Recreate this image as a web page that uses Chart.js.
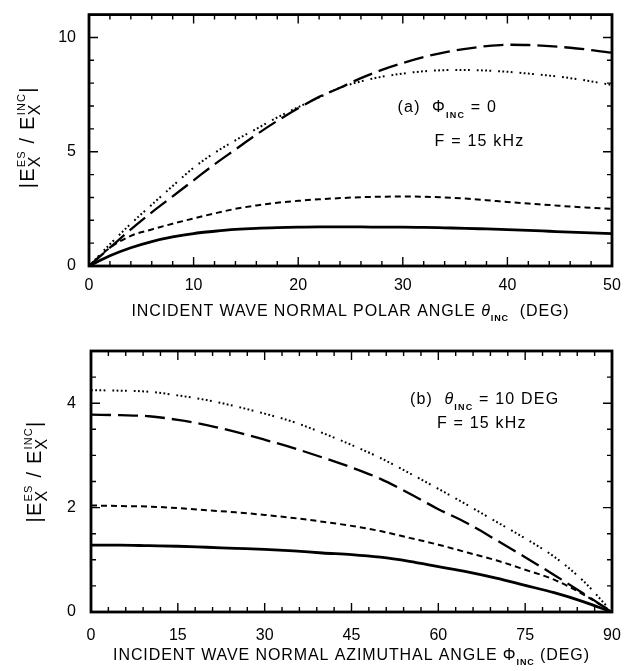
<!DOCTYPE html>
<html>
<head>
<meta charset="utf-8">
<script src="https://cdn.jsdelivr.net/npm/chart.js@4.4.1/dist/chart.umd.min.js"></script>
<style>
  html, body { margin: 0; padding: 0; background: #fff; }
  #wrap { position: relative; width: 635px; height: 671px; }
  canvas { position: absolute; left: 0; }
</style>
</head>
<body>
<div id="wrap">
  <canvas id="chartA" width="635" height="330" style="top:0"></canvas>
  <canvas id="chartB" width="635" height="341" style="top:330px"></canvas>
</div>
<script>
// ---------- Panel (a): ratio versus polar angle, PHI_INC = 0 ----------
const thetaDeg = [0, 2, 4, 6, 8, 10, 12, 14, 16, 18, 20, 22, 24, 26, 28, 30, 32, 34, 36, 38, 40, 42, 44, 46, 48, 50];
const aSolid     = [0, 0.45, 0.80, 1.07, 1.27, 1.42, 1.52, 1.60, 1.65, 1.68, 1.70, 1.71, 1.71, 1.71, 1.70, 1.70, 1.69, 1.67, 1.65, 1.62, 1.59, 1.56, 1.52, 1.48, 1.45, 1.42];
const aShortDash = [0, 0.80, 1.32, 1.60, 1.85, 2.08, 2.30, 2.50, 2.65, 2.77, 2.85, 2.92, 2.97, 3.01, 3.03, 3.04, 3.03, 3.00, 2.95, 2.88, 2.80, 2.73, 2.67, 2.60, 2.55, 2.50];
const aLongDash  = [0, 0.80, 1.60, 2.35, 3.05, 3.75, 4.45, 5.10, 5.75, 6.35, 6.90, 7.40, 7.80, 8.22, 8.58, 8.88, 9.14, 9.35, 9.50, 9.62, 9.68, 9.67, 9.62, 9.55, 9.45, 9.33];
const aDotted    = [0, 0.95, 1.85, 2.68, 3.50, 4.30, 4.95, 5.50, 6.00, 6.50, 6.95, 7.38, 7.80, 8.08, 8.28, 8.42, 8.52, 8.57, 8.58, 8.55, 8.50, 8.42, 8.33, 8.22, 8.08, 7.92];
const aXTicks = [0, 10, 20, 30, 40, 50];
const aYTicks = [0, 5, 10];

// ---------- Panel (b): ratio versus azimuthal angle, THETA_INC = 10 DEG ----------
const phiDeg = [0, 5, 10, 15, 20, 25, 30, 35, 40, 45, 50, 55, 60, 65, 70, 75, 80, 85, 90];
const bSolid     = [1.28, 1.28, 1.27, 1.26, 1.24, 1.22, 1.20, 1.17, 1.13, 1.10, 1.05, 0.97, 0.87, 0.77, 0.65, 0.51, 0.37, 0.20, 0];
const bShortDash = [2.04, 2.03, 2.02, 1.99, 1.95, 1.91, 1.86, 1.80, 1.73, 1.65, 1.55, 1.42, 1.29, 1.14, 0.99, 0.81, 0.62, 0.34, 0];
const bLongDash  = [3.78, 3.77, 3.75, 3.68, 3.58, 3.45, 3.30, 3.14, 2.96, 2.77, 2.55, 2.27, 1.97, 1.70, 1.38, 1.05, 0.71, 0.36, 0];
const bDotted    = [4.25, 4.24, 4.22, 4.15, 4.06, 3.94, 3.80, 3.64, 3.43, 3.20, 2.95, 2.66, 2.36, 2.05, 1.73, 1.41, 1.06, 0.60, 0];
const bXTicks = [0, 15, 30, 45, 60, 75, 90];
const bYTicks = [0, 2, 4];

const FAMILY = '"Liberation Sans", Arial, Helvetica, sans-serif';

// ---------- text helpers (sub/superscripts, letter spacing, rotation) ----------
function fontStr(size, italic, bold) {
  return (italic ? 'italic ' : '') + (bold ? 'bold ' : '') + size + 'px ' + FAMILY;
}
function textW(ctx, t, size, italic, bold, ls) {
  ctx.font = fontStr(size, italic, bold);
  ctx.letterSpacing = '0px';
  return ctx.measureText(t).width + ls * t.length;
}
function drawText(ctx, t, x, y, size, italic, bold, ls) {
  ctx.font = fontStr(size, italic, bold);
  ctx.letterSpacing = ls + 'px';
  ctx.fillText(t, x, y);
}
function partWidth(ctx, p, ls) {
  if (p.stack) {
    const s = p.stack;
    return Math.max(textW(ctx, s.sup, s.supSize, false, false, ls),
                    textW(ctx, s.sub, s.subSize, false, false, ls));
  }
  return textW(ctx, p.t, p.size, p.it, p.b, ls);
}
function drawRich(ctx, parts, x, y, o) {
  const ls = o.ls || 0;
  ctx.save();
  ctx.translate(x, y);
  ctx.rotate(o.rot || 0);
  ctx.fillStyle = '#000';
  ctx.textAlign = 'left';
  ctx.textBaseline = 'alphabetic';
  const total = parts.reduce((s, p) => s + partWidth(ctx, p, ls), 0);
  let cx = o.align === 'center' ? -total / 2 : 0;
  for (const p of parts) {
    const w = partWidth(ctx, p, ls);
    if (p.stack) {
      const s = p.stack;
      drawText(ctx, s.sup, cx, s.dySup, s.supSize, false, false, ls);
      drawText(ctx, s.sub, cx, s.dySub, s.subSize, false, false, ls);
    } else {
      drawText(ctx, p.t, cx, p.dy || 0, p.size, p.it, p.b, ls);
    }
    cx += w;
  }
  ctx.restore();
}

// ratio label |E_X^ES / E_X^INC|
const ratioTitle = [
  { t: '|E', size: 20 },
  { stack: { sup: 'ES', supSize: 11, dySup: -9, sub: 'X', subSize: 16, dySub: 6 } },
  { t: ' / E', size: 20 },
  { stack: { sup: 'INC', supSize: 11, dySup: -9, sub: 'X', subSize: 16, dySub: 6 } },
  { t: '|', size: 20 }
];

// ---------- plugin: heavy frame with inward major/minor ticks on all sides ----------
const frameTicks = {
  id: 'frameTicks',
  afterDatasetsDraw(chart, args, opts) {
    const { ctx, chartArea: a, scales: { x, y } } = chart;
    ctx.save();
    ctx.strokeStyle = '#000';
    ctx.lineCap = 'butt';
    const isMajor = (arr, v) => arr.some(m => Math.abs(m - v) < 1e-6);
    ctx.lineWidth = 1.4;
    const nx = Math.round((x.max - x.min) / opts.xMinor);
    for (let i = 0; i <= nx; i++) {
      const v = x.min + i * opts.xMinor;
      const px = x.getPixelForValue(v);
      const len = isMajor(opts.xMajor, v) ? 9 : 5;
      ctx.beginPath();
      ctx.moveTo(px, a.bottom); ctx.lineTo(px, a.bottom - len);
      ctx.moveTo(px, a.top); ctx.lineTo(px, a.top + len);
      ctx.stroke();
    }
    const ny = Math.round((y.max - y.min) / opts.yMinor);
    for (let i = 0; i <= ny; i++) {
      const v = y.min + i * opts.yMinor;
      const py = y.getPixelForValue(v);
      const len = isMajor(opts.yMajor, v) ? 9 : 5;
      ctx.beginPath();
      ctx.moveTo(a.left, py); ctx.lineTo(a.left + len, py);
      ctx.moveTo(a.right, py); ctx.lineTo(a.right - len, py);
      ctx.stroke();
    }
    ctx.lineWidth = 2.8;
    ctx.strokeRect(a.left, a.top, a.right - a.left, a.bottom - a.top);
    ctx.restore();
  }
};

// ---------- plugin: axis titles and in-plot annotation ----------
const labels = {
  id: 'labels',
  afterDraw(chart, args, opts) {
    const { ctx, chartArea: a, scales: { x, y } } = chart;
    const cxA = (a.left + a.right) / 2;
    drawRich(ctx, opts.xTitle, cxA, a.bottom + opts.xTitleDy, { align: 'center', ls: 0.9 });
    drawRich(ctx, ratioTitle, opts.yTitleX, (a.top + a.bottom) / 2 + opts.yTitleDy,
             { align: 'center', rot: -Math.PI / 2, ls: 1.2 });
    const n = opts.note;
    const x0 = x.getPixelForValue(n.x), y0 = y.getPixelForValue(n.y);
    drawRich(ctx, n.line1, x0, y0, { ls: 1.2 });
    const y1 = y.getPixelForValue(n.y2);
    drawRich(ctx, n.line2, x0 + n.indent, y1, { ls: 1.2 });
  }
};

function lineSets(xs, solid, shortDash, longDash, dotted) {
  const pts = arr => arr.map((v, i) => ({ x: xs[i], y: v }));
  const base = { pointRadius: 0, borderColor: '#000', backgroundColor: '#000', fill: false,
                 cubicInterpolationMode: 'monotone', borderCapStyle: 'butt' };
  return [
    Object.assign({ label: 'solid', data: pts(solid), borderWidth: 2.8 }, base),
    Object.assign({ label: 'short dash', data: pts(shortDash), borderWidth: 2, borderDash: [6, 4] }, base),
    Object.assign({ label: 'long dash', data: pts(longDash), borderWidth: 2.3, borderDash: [20, 7] }, base),
    Object.assign({ label: 'dotted', data: pts(dotted), borderWidth: 2, borderDash: [1.8, 2.4, 1.8, 2.4, 1.8, 2.4, 1.8, 7] }, base)
  ];
}

function makeChart(id, cfg) {
  return new Chart(document.getElementById(id), {
    type: 'line',
    data: { datasets: lineSets(cfg.xs, cfg.solid, cfg.shortDash, cfg.longDash, cfg.dotted) },
    options: {
      responsive: false,
      animation: false,
      devicePixelRatio: 1,
      layout: { padding: { top: cfg.padTop, right: cfg.padRight, left: 0, bottom: 0 } },
      plugins: {
        legend: { display: false },
        tooltip: { enabled: false },
        frameTicks: { xMajor: cfg.xTicks, yMajor: cfg.yTicks, xMinor: cfg.xMinor, yMinor: cfg.yMinor },
        labels: cfg.labels
      },
      scales: {
        x: {
          type: 'linear', min: cfg.xMin, max: cfg.xMax,
          grid: { display: false }, border: { display: false },
          afterBuildTicks: s => { s.ticks = cfg.xTicks.map(v => ({ value: v })); },
          afterFit: s => { s.height = cfg.xAxisH; },
          ticks: { color: '#000', padding: cfg.xPad, maxRotation: 0, autoSkip: false,
                   font: { family: FAMILY, size: 16 } }
        },
        y: {
          type: 'linear', min: cfg.yMin, max: cfg.yMax,
          grid: { display: false }, border: { display: false },
          afterBuildTicks: s => { s.ticks = cfg.yTicks.map(v => ({ value: v })); },
          afterFit: s => { s.width = cfg.yAxisW; },
          ticks: { color: '#000', padding: cfg.yPad, font: { family: FAMILY, size: 16 } }
        }
      }
    },
    plugins: [frameTicks, labels]
  });
}

makeChart('chartA', {
  xs: thetaDeg, solid: aSolid, shortDash: aShortDash, longDash: aLongDash, dotted: aDotted,
  xTicks: aXTicks, yTicks: aYTicks, xMinor: 2, yMinor: 1,
  xMin: 0, xMax: 50, yMin: 0, yMax: 11,
  padTop: 5, padRight: 23, xAxisH: 64, yAxisW: 89, xPad: 2, yPad: 5,
  labels: {
    xTitle: [
      { t: 'INCIDENT WAVE NORMAL POLAR ANGLE ', size: 16 },
      { t: 'θ', size: 16, it: true },
      { t: 'INC', size: 9, b: true, dy: 5 },
      { t: '  (DEG)', size: 16 }
    ],
    xTitleDy: 50,
    yTitleX: 34, yTitleDy: -3,
    note: {
      x: 29.5, y: 6.72, y2: 5.26, indent: 37,
      line1: [
        { t: '(a)  ', size: 16 },
        { t: 'Φ', size: 16 },
        { t: 'INC', size: 9, b: true, dy: 6 },
        { t: ' = 0', size: 16 }
      ],
      line2: [{ t: 'F = 15 kHz', size: 16 }]
    }
  }
});

makeChart('chartB', {
  xs: phiDeg, solid: bSolid, shortDash: bShortDash, longDash: bLongDash, dotted: bDotted,
  xTicks: bXTicks, yTicks: bYTicks, xMinor: 3, yMinor: 0.5,
  xMin: 0, xMax: 90, yMin: 0, yMax: 5,
  padTop: 21, padRight: 23, xAxisH: 59, yAxisW: 91, xPad: 6, yPad: 7,
  labels: {
    xTitle: [
      { t: 'INCIDENT WAVE NORMAL AZIMUTHAL ANGLE ', size: 16 },
      { t: 'Φ', size: 16 },
      { t: 'INC', size: 9, b: true, dy: 5 },
      { t: ' (DEG)', size: 16 }
    ],
    xTitleDy: 48,
    yTitleX: 41, yTitleDy: -10,
    note: {
      x: 55.1, y: 3.98, y2: 3.53, indent: 27,
      line1: [
        { t: '(b)  ', size: 16 },
        { t: 'θ', size: 16, it: true },
        { t: 'INC', size: 9, b: true, dy: 6 },
        { t: ' = 10 DEG', size: 16 }
      ],
      line2: [{ t: 'F = 15 kHz', size: 16 }]
    }
  }
});
</script>
</body>
</html>
